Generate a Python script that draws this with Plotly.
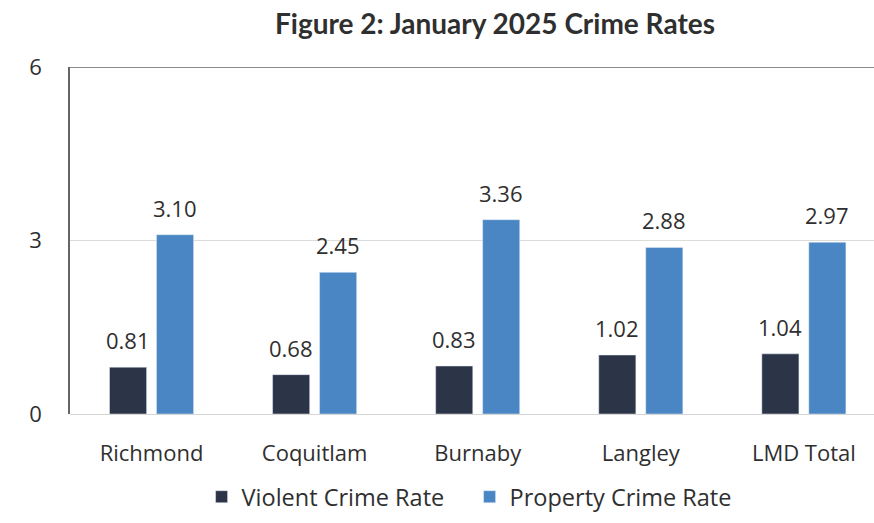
import plotly.graph_objects as go

# Crime rates by area, January 2025
areas = ["Richmond", "Coquitlam", "Burnaby", "Langley", "LMD Total"]
violent = [0.81, 0.68, 0.83, 1.02, 1.04]
property_rate = [3.10, 2.45, 3.36, 2.88, 2.97]
y_ticks = [0, 3, 6]

violent_color = "#2c3448"
property_color = "#4a86c4"
text_color = "#2f2f2f"
body_font = "'Open Sans', Lato, sans-serif"
title_font = "Lato, 'Open Sans', sans-serif"

fig = go.Figure()
fig.add_trace(go.Bar(name="Violent Crime Rate", x=areas, y=violent,
                     marker_color=violent_color))
fig.add_trace(go.Bar(name="Property Crime Rate", x=areas, y=property_rate,
                     marker_color=property_color))

# value labels above each bar
for vals, shift in ((violent, -23.5), (property_rate, 23.5)):
    for a, v in zip(areas, vals):
        fig.add_annotation(x=a, y=v, text=f"{v:.2f}", showarrow=False,
                           xshift=shift, yshift=27,
                           font=dict(size=22, color=text_color, family=body_font))

fig.update_layout(
    width=874, height=523,
    margin=dict(l=70, r=0, t=67, b=109),
    paper_bgcolor="white", plot_bgcolor="white",
    barmode="group", bargap=0.424, bargroupgap=0.21,
    title=dict(text="<b>Figure 2: January 2025 Crime Rates</b>",
               x=495 / 874, xanchor="center", y=1 - 24 / 523, yanchor="middle",
               font=dict(size=28, color=text_color, family=title_font)),
    font=dict(family=body_font, size=22, color=text_color),
    legend=dict(orientation="h", x=0.497, xanchor="center", y=-0.239,
                yanchor="middle", font=dict(size=23.5, color=text_color),
                itemwidth=30, entrywidth=223, traceorder="normal"),
    showlegend=True,
)
fig.update_xaxes(range=[-0.5, 4.43], showgrid=False, showline=False,
                 ticks="", ticklabelstandoff=24,
                 tickfont=dict(size=22, color=text_color))
fig.update_yaxes(range=[0, 6], tickvals=y_ticks, showgrid=True,
                 gridcolor="#dcdcdc", gridwidth=1,
                 zeroline=True, zerolinecolor="#d6d6d6", zerolinewidth=1,
                 showline=True, linecolor="#666666", linewidth=1.5,
                 ticks="", ticklabelstandoff=22,
                 tickfont=dict(size=22, color=text_color))
# darker border along the top of the plot
fig.add_shape(type="line", xref="paper", yref="y", x0=0, x1=1, y0=6, y1=6,
              line=dict(color="#8a8a8a", width=2))

fig.write_html("out.html")
